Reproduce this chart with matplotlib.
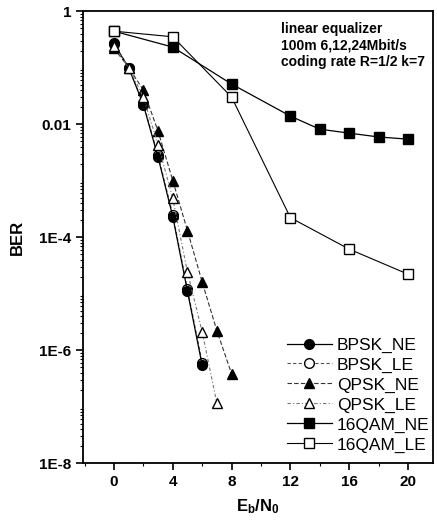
import numpy as np
import matplotlib
matplotlib.use('Agg')
import matplotlib.pyplot as plt
from matplotlib.ticker import LogLocator, FixedLocator, NullFormatter

plt.rcParams['font.family'] = ['Liberation Sans', 'DejaVu Sans']
plt.rcParams['mathtext.fontset'] = 'custom'
plt.rcParams['mathtext.bf'] = 'Liberation Sans:bold'

# Eb/N0 (dB) and BER values
x_bpsk_ne = [0, 1, 2, 3, 4, 5, 6]
ber_bpsk_ne = [0.26, 0.1, 0.022, 0.0026, 2.3e-4, 1.1e-5, 5.4e-7]
x_bpsk_le = [0, 1, 2, 3, 4, 5, 6]
ber_bpsk_le = [0.27, 0.1, 0.023, 0.0028, 2.5e-4, 1.2e-5, 6.0e-7]
x_qpsk_ne = [0, 1, 2, 3, 4, 5, 6, 7, 8]
ber_qpsk_ne = [0.22, 0.1, 0.04, 0.0075, 0.001, 1.3e-4, 1.6e-5, 2.2e-6, 3.8e-7]
x_qpsk_le = [0, 1, 2, 3, 4, 5, 6, 7]
ber_qpsk_le = [0.24, 0.1, 0.03, 0.0043, 4.9e-4, 2.4e-5, 2.1e-6, 1.15e-7]
x_16qam_ne = [0, 4, 8, 12, 14, 16, 18, 20]
ber_16qam_ne = [0.44, 0.23, 0.051, 0.0138, 0.0081, 0.0069, 0.0059, 0.0054]
x_16qam_le = [0, 4, 8, 12, 16, 20]
ber_16qam_le = [0.44, 0.35, 0.030, 2.2e-4, 6.1e-5, 2.2e-5]

note_lines = ['linear equalizer', '100m 6,12,24Mbit/s', 'coding rate R=1/2 k=7']

fig = plt.figure(figsize=(4.37, 5.25), dpi=100)
ax = fig.add_axes([0.190, 0.118, 0.801, 0.861])

ax.plot(x_bpsk_ne, ber_bpsk_ne, color='black', lw=0.9, ls='-', marker='o',
        ms=7, mfc='black', label='BPSK_NE')
ax.plot(x_bpsk_le, ber_bpsk_le, color='#555555', lw=0.8, ls=(0, (3, 2)), marker='o',
        ms=7, mfc='white', mec='black', label='BPSK_LE', zorder=1.5)
ax.plot(x_qpsk_ne, ber_qpsk_ne, color='#333333', lw=0.8, ls=(0, (4, 2)), marker='^',
        ms=7, mfc='black', mec='black', label='QPSK_NE')
ax.plot(x_qpsk_le, ber_qpsk_le, color='#777777', lw=0.8, ls=(0, (3, 2, 1, 2)), marker='^',
        ms=7, mfc='white', mec='black', label='QPSK_LE')
ax.plot(x_16qam_ne, ber_16qam_ne, color='black', lw=0.9, ls='-', marker='s',
        ms=6.5, mfc='black', label='16QAM_NE')
ax.plot(x_16qam_le, ber_16qam_le, color='black', lw=0.8, ls='-', marker='s',
        ms=6.5, mfc='white', mec='black', label='16QAM_LE')

ax.set_yscale('log')
ax.set_ylim(1e-8, 1)
ax.set_xlim(-2.1, 21.7)

ax.yaxis.set_major_locator(FixedLocator([1e-8, 1e-6, 1e-4, 1e-2, 1]))
ax.yaxis.set_minor_locator(LogLocator(base=10, subs=np.arange(2, 10), numticks=20))
ax.yaxis.set_minor_formatter(NullFormatter())
ax.set_yticklabels(['1E-8', '1E-6', '1E-4', '0.01', '1'])
ax.set_xticks([0, 4, 8, 12, 16, 20])
ax.set_xticks([-2, 2, 6, 10, 14, 18], minor=True)

ax.tick_params(which='major', direction='out', length=5, width=1.2,
               labelsize=11, top=False, right=False)
ax.tick_params(which='minor', direction='out', length=2.5, width=0.8,
               top=False, right=False)
for lab in ax.get_xticklabels() + ax.get_yticklabels():
    lab.set_fontweight('bold')
for sp in ax.spines.values():
    sp.set_linewidth(1.3)

ax.set_ylabel('BER', fontsize=12, fontweight='bold', labelpad=10)
ax.set_xlabel(r'$\mathbf{E_b/N_0}$', fontsize=12, labelpad=6)

ax.text(0.565, 0.976, '\n'.join(note_lines), transform=ax.transAxes,
        fontsize=10, fontweight='bold', va='top', ha='left', linespacing=1.25)

ax.legend(loc='lower right', bbox_to_anchor=(1.02, 0.0), frameon=False,
          fontsize=12.5, handlelength=2.6, handletextpad=0.3,
          labelspacing=0.27, borderaxespad=0.2)

fig.savefig('out.png', dpi=100)
